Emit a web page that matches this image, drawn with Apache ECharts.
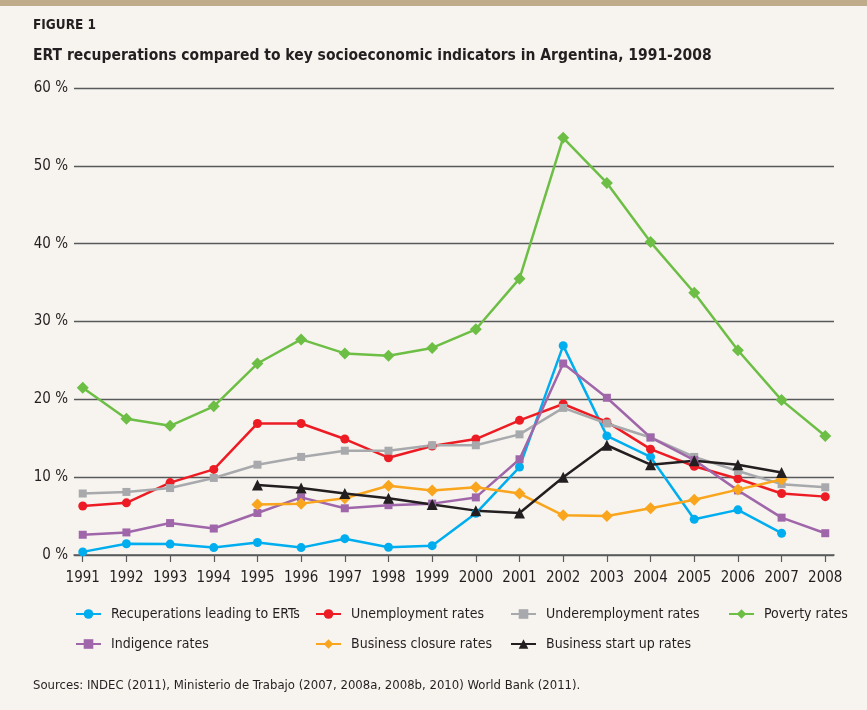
<!DOCTYPE html>
<html>
<head>
<meta charset="utf-8">
<script src="https://cdn.jsdelivr.net/npm/echarts@6/dist/echarts.min.js"></script>
<style>
  html, body { margin: 0; padding: 0; background: #f7f4ef; }
  #chart { width: 867px; height: 710px; }
</style>
</head>
<body>
<div id="chart"></div>
<script>
// Years 1991–2008
const years = [1991, 1992, 1993, 1994, 1995, 1996, 1997, 1998, 1999, 2000,
               2001, 2002, 2003, 2004, 2005, 2006, 2007, 2008];

// Percent values per indicator (null = no data for that year)
const recuperations = [0.4, 1.45, 1.4, 0.95, 1.6, 0.95, 2.1, 1.0, 1.2, 5.35,
                       11.3, 26.9, 15.3, 12.6, 4.6, 5.8, 2.8, null];
const unemployment = [6.3, 6.7, 9.3, 11.0, 16.9, 16.9, 14.9, 12.5, 14.0, 14.9,
                      17.3, 19.4, 17.1, 13.6, 11.4, 9.8, 7.9, 7.5];
const underemployment = [7.9, 8.1, 8.6, 9.9, 11.6, 12.6, 13.4, 13.4, 14.1, 14.1,
                         15.5, 18.9, 16.9, 15.1, 12.6, 10.8, 9.1, 8.7];
const poverty = [21.5, 17.5, 16.6, 19.1, 24.6, 27.7, 25.9, 25.6, 26.6, 29.0,
                 35.5, 53.6, 47.8, 40.2, 33.7, 26.3, 19.9, 15.3];
const indigence = [2.6, 2.9, 4.1, 3.4, 5.4, 7.4, 6.0, 6.4, 6.6, 7.4,
                   12.3, 24.6, 20.2, 15.1, 12.2, 8.3, 4.8, 2.8];
const closures = [null, null, null, null, 6.5, 6.6, 7.3, 8.9, 8.3, 8.7,
                  7.9, 5.1, 5.0, 6.0, 7.1, 8.4, 9.7, null];
const startups = [null, null, null, null, 9.0, 8.6, 7.9, 7.3, 6.5, 5.7,
                  5.4, 10.0, 14.1, 11.6, 12.1, 11.6, 10.6, null];

// Y-axis ticks
const yTicks = [0, 10, 20, 30, 40, 50, 60];

const FONT = '"Liberation Sans Narrow", "DejaVu Sans Condensed", "Liberation Sans", sans-serif';
const TEXT = '#231f20';

const seriesDefs = [
  { name: 'Recuperations leading to ERTs', data: recuperations, color: '#00aeef', symbol: 'circle', size: 9 },
  { name: 'Unemployment rates', data: unemployment, color: '#ed1c24', symbol: 'circle', size: 9 },
  { name: 'Underemployment rates', data: underemployment, color: '#a7a9ac', symbol: 'rect', size: 8 },
  { name: 'Poverty rates', data: poverty, color: '#6dbe45', symbol: 'diamond', size: 12 },
  { name: 'Indigence rates', data: indigence, color: '#a066aa', symbol: 'rect', size: 8 },
  { name: 'Business closure rates', data: closures, color: '#f9a51d', symbol: 'diamond', size: 12 },
  { name: 'Business start up rates', data: startups, color: '#231f20', symbol: 'triangle', size: 11 }
];

// Legend slots: [left, top] for each entry
const legendSlots = [[75, 607], [315, 607], [510, 607], [728, 607],
                     [75, 637], [315, 637], [510, 637]];

const chart = echarts.init(document.getElementById('chart'), null, { renderer: 'canvas' });

const option = {
  backgroundColor: '#f7f4ef',
  animation: false,
  graphic: [
    { type: 'rect', left: 0, top: 0, shape: { width: 867, height: 6 }, style: { fill: '#c0ab8a' } }
  ],
  title: [
    { text: 'FIGURE 1', left: 33, top: 18, padding: 0,
      textStyle: { fontFamily: FONT, fontSize: 13.5, fontWeight: 'bold', color: TEXT } },
    { text: 'ERT recuperations compared to key socioeconomic indicators in Argentina, 1991-2008', left: 33, top: 48, padding: 0,
      textStyle: { fontFamily: FONT, fontSize: 15.5, fontWeight: 'bold', color: TEXT } },
    { text: 'Sources: INDEC (2011), Ministerio de Trabajo (2007, 2008a, 2008b, 2010) World Bank (2011).', left: 33, top: 679, padding: 0,
      textStyle: { fontFamily: FONT, fontSize: 13, fontWeight: 'normal', color: TEXT } }
  ],
  legend: seriesDefs.map((s, i) => ({
    data: [s.name],
    left: legendSlots[i][0],
    top: legendSlots[i][1],
    padding: 0,
    itemWidth: 25,
    itemHeight: 12,
    selectedMode: false,
    textStyle: { fontFamily: FONT, fontSize: 14, color: TEXT, padding: [0, 0, 0, 5] }
  })),
  grid: { left: 74, right: 33, top: 88, bottom: 155, containLabel: false },
  xAxis: {
    type: 'value',
    min: 1990.8,
    max: 2008.2,
    interval: 1,
    splitLine: { show: false },
    axisLine: { show: true, onZero: false, lineStyle: { color: '#58595b', width: 1.5 } },
    axisTick: { show: true, length: 7, lineStyle: { color: '#58595b', width: 1.2 },
      customValues: years },
    axisLabel: { fontFamily: FONT, fontSize: 15, color: TEXT, margin: 16,
      customValues: years, formatter: v => String(v) }
  },
  yAxis: {
    type: 'value',
    min: yTicks[0],
    max: yTicks[yTicks.length - 1],
    interval: 10,
    axisLine: { show: false },
    axisTick: { show: false },
    splitLine: { show: true, lineStyle: { color: '#58595b', width: 1.3 } },
    axisLabel: { fontFamily: FONT, fontSize: 15, color: TEXT, margin: 6,
      formatter: v => v + ' %' }
  },
  series: seriesDefs.map(s => ({
    name: s.name,
    type: 'line',
    data: years.map((y, i) => [y, s.data[i]]),
    symbol: s.symbol,
    symbolSize: s.size,
    showAllSymbol: true,
    connectNulls: false,
    lineStyle: { color: s.color, width: 2.5 },
    itemStyle: { color: s.color },
    emphasis: { disabled: true }
  }))
};

chart.setOption(option);
</script>
</body>
</html>
